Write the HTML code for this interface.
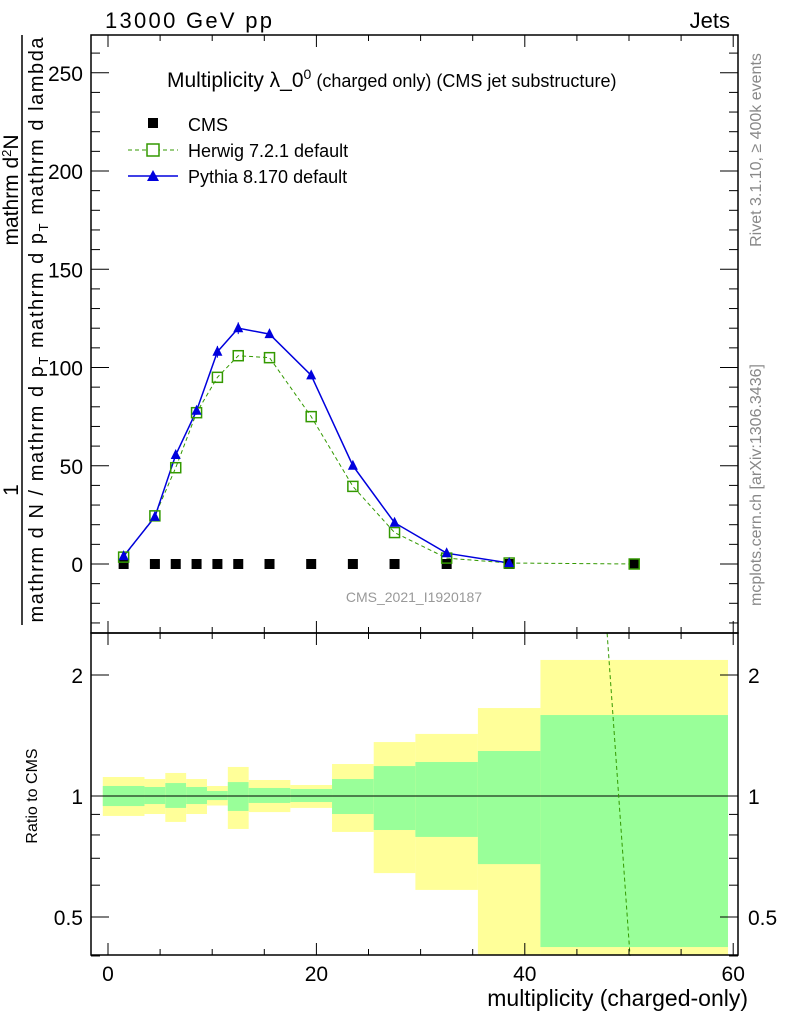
<!DOCTYPE html>
<html><head><meta charset="utf-8"><style>
body{margin:0;background:#fff}
svg{display:block;font-family:"Liberation Sans",sans-serif}
</style></head><body>
<svg id="c" width="786" height="1024" viewBox="0 0 786 1024">
<g id="bands"></g>
<g id="main"></g>
<text x="105" y="28" font-size="22" textLength="167">13000 GeV pp</text>
<text x="730" y="28" font-size="22" text-anchor="end">Jets</text>
<text x="167" y="87" font-size="21">Multiplicity λ_0<tspan font-size="14" dy="-8">0</tspan><tspan dy="8" font-size="18"> (charged only) (CMS jet substructure)</tspan></text>
<text x="414" y="602" font-size="14" fill="#999" text-anchor="middle">CMS_2021_I1920187</text>
<text transform="translate(761,150) rotate(-90)" font-size="16" fill="#888" text-anchor="middle">Rivet 3.1.10, ≥ 400k events</text>
<text transform="translate(761,485) rotate(-90)" font-size="16" fill="#888" text-anchor="middle">mcplots.cern.ch [arXiv:1306.3436]</text>
<g>
<text transform="translate(18,490) rotate(-90)" font-size="21" text-anchor="middle">1</text>
<text transform="translate(18,190) rotate(-90)" font-size="21" text-anchor="middle">mathrm d<tspan font-size="13" dy="-7">2</tspan><tspan dy="7">N</tspan></text>
<line x1="22" y1="35" x2="22" y2="625" stroke="#000" stroke-width="1.5"/>
<text transform="translate(43,330) rotate(-90)" font-size="20" text-anchor="middle" textLength="585">mathrm d N / mathrm d p<tspan font-size="13" dy="5">T</tspan><tspan dy="-5"> mathrm d p</tspan><tspan font-size="13" dy="5">T</tspan><tspan dy="-5"> mathrm d lambda</tspan></text>
</g>
<text transform="translate(37,796) rotate(-90)" font-size="16" text-anchor="middle">Ratio to CMS</text>
<text x="748" y="1006" font-size="23" text-anchor="end">multiplicity (charged-only)</text>
<g>
<rect x="148" y="118" width="10" height="10" fill="#000"/>
<text x="188" y="131" font-size="18">CMS</text>
<line x1="128" y1="150" x2="178" y2="150" stroke="#339900" stroke-dasharray="4,3"/>
<rect x="147" y="144" width="12" height="12" fill="#fff" stroke="#339900" stroke-width="1.5"/>
<text x="188" y="157" font-size="18">Herwig 7.2.1 default</text>
<line x1="128" y1="176" x2="178" y2="176" stroke="#0000dd" stroke-width="1.5"/>
<polygon points="153,170 159,181 147,181" fill="#0000dd"/>
<text x="188" y="183" font-size="18">Pythia 8.170 default</text>
</g>
</svg>
<script>
const centers=[1.5,4.5,6.5,8.5,10.5,12.5,15.5,19.5,23.5,27.5,32.5,38.5,50.5];
const cmsVals=[0,0,0,0,0,0,0,0,0,0,0,0,0];
const herwigVals=[3.5,24.5,49,77,95,106,105,75,39.5,16,3,0.5,0];
const pythiaVals=[4,24,55.5,78,108,120,117,96,50,21,5.5,0.5];
const pythiaErr=[1,1,2,2,3,3,2,2,1,1,0.5,0.2];
const binEdges=[-0.5,3.5,5.5,7.5,9.5,11.5,13.5,17.5,21.5,25.5,29.5,35.5,41.5,59.5];
const yellowHi=[1.115,1.102,1.141,1.102,1.059,1.181,1.096,1.065,1.201,1.362,1.427,1.655,2.18];
const yellowLo=[0.892,0.902,0.862,0.902,0.947,0.828,0.912,0.934,0.814,0.643,0.584,0.3,0.3];
const greenHi=[1.059,1.053,1.077,1.053,1.029,1.083,1.047,1.041,1.102,1.187,1.215,1.294,1.59];
const greenLo=[0.944,0.955,0.934,0.955,0.977,0.918,0.961,0.966,0.902,0.823,0.791,0.677,0.421];
const herwigRatioLine=[[47.9,2.54],[50.1,0.4]];
const xTicks=[0,20,40,60];
const yTicks=[0,50,100,150,200,250];
const rTicks=[0.5,1,2];

const NS="http://www.w3.org/2000/svg";
const L=91,R=738,T=35,M=633,B=955;
const X=v=>108+(v)*10.42;
const Y=v=>564-v*1.965;
const RY=v=>796-Math.log10(v)*402;
const main=document.getElementById('main'),bands=document.getElementById('bands');
function mk(p,tag,a){const e=document.createElementNS(NS,tag);for(const k in a)e.setAttribute(k,a[k]);p.appendChild(e);return e;}
for(let i=0;i<yellowHi.length;i++){
 const x0=X(binEdges[i]),x1=X(binEdges[i+1]);
 const yt=Math.max(M,RY(yellowHi[i])),ybm=Math.min(B,RY(yellowLo[i]));
 const yb=mk(bands,'rect',{x:x0,y:yt,width:x1-x0,height:ybm-yt,fill:'#ffff99'});
 
 
 const gt=RY(greenHi[i]),gbm=Math.min(B,RY(greenLo[i]));
 const gb=mk(bands,'rect',{x:x0,y:gt,width:x1-x0,height:gbm-gt,fill:'#99ff99'});
 
 
}
mk(main,'line',{x1:L,x2:R,y1:RY(1),y2:RY(1),stroke:'#000'});
const hr=mk(main,'line',{x1:X(herwigRatioLine[0][0]),y1:RY(herwigRatioLine[0][1]),x2:X(herwigRatioLine[1][0]),y2:RY(herwigRatioLine[1][1]),stroke:'#339900','stroke-dasharray':'4,3'});


mk(main,'rect',{x:L,y:T,width:R-L,height:M-T,fill:'none',stroke:'#000','stroke-width':1.5});
mk(main,'rect',{x:L,y:M,width:R-L,height:B-M,fill:'none',stroke:'#000','stroke-width':1.5});
for(let v=0;v<=60;v+=5){const maj=xTicks.includes(v);const l=maj?12:6;
 for(const [y0,y1] of [[T,M],[M,B]]){mk(main,'line',{x1:X(v),x2:X(v),y1:y1,y2:y1-l,stroke:'#000'});mk(main,'line',{x1:X(v),x2:X(v),y1:y0,y2:y0+l,stroke:'#000'});}}
xTicks.forEach(v=>{const t=mk(main,'text',{x:X(v),y:981,'font-size':21,'text-anchor':'middle'});t.textContent=v;
 
 });
for(let v=-30;v<=260;v+=10){const maj=yTicks.includes(v);const l=maj?18:9;
 mk(main,'line',{x1:L,x2:L+l,y1:Y(v),y2:Y(v),stroke:'#000'});mk(main,'line',{x1:R,x2:R-l,y1:Y(v),y2:Y(v),stroke:'#000'});}
yTicks.forEach(v=>{const t=mk(main,'text',{x:83,y:Y(v)+8,'font-size':21,'text-anchor':'end'});t.textContent=v;
 
 });
[0.4,0.5,0.6,0.7,0.8,0.9,1,2].forEach(v=>{const l=rTicks.includes(v)?18:9;
 mk(main,'line',{x1:L,x2:L+l,y1:RY(v),y2:RY(v),stroke:'#000'});mk(main,'line',{x1:R,x2:R-l,y1:RY(v),y2:RY(v),stroke:'#000'});});
rTicks.forEach(v=>{for(const [x,a] of [[83,'end'],[748,'start']]){const t=mk(main,'text',{x:x,y:RY(v)+8,'font-size':21,'text-anchor':a});t.textContent=v;
 
 }});
mk(main,'polyline',{points:centers.map((c,i)=>X(c)+','+Y(herwigVals[i])).join(' '),fill:'none',stroke:'#339900','stroke-dasharray':'4,3'});
mk(main,'polyline',{points:pythiaVals.map((v,i)=>X(centers[i])+','+Y(v)).join(' '),fill:'none',stroke:'#0000dd','stroke-width':1.5});
cmsVals.forEach((v,i)=>{const r=mk(main,'rect',{x:X(centers[i])-5,y:Y(v)-5,width:10,height:10,fill:'#000'});
 
 });
herwigVals.forEach((v,i)=>{const r=mk(main,'rect',{x:X(centers[i])-5,y:Y(v)-5,width:10,height:10,fill:'none',stroke:'#339900','stroke-width':1.5});
 
 });
pythiaVals.forEach((v,i)=>{const x=X(centers[i]),y=Y(v);
 mk(main,'line',{x1:x,x2:x,y1:Y(v+pythiaErr[i]),y2:Y(v-pythiaErr[i]),stroke:'#0000dd'});
 const p=mk(main,'polygon',{points:`${x},${y-6} ${x+5},${y+4} ${x-5},${y+4}`,fill:'#0000dd'});
 
 });
</script>
</body></html>
